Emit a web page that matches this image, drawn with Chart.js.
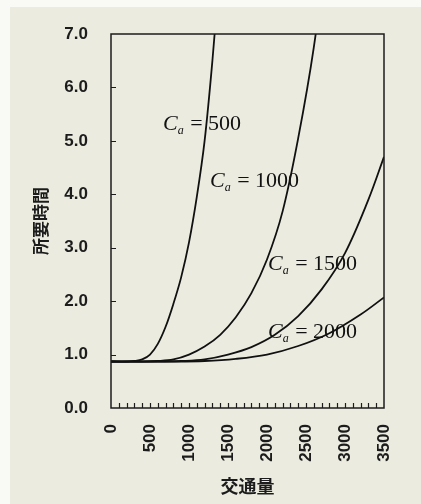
<!DOCTYPE html>
<html>
<head>
<meta charset="utf-8">
<script src="https://cdn.jsdelivr.net/npm/chart.js@4.4.1/dist/chart.umd.min.js"></script>
<style>
body{margin:0;background:#ecebe0;}
canvas{display:block;}
</style>
</head>
<body>
<canvas id="travelTime" width="421" height="504"></canvas>
<script>
// 所要時間 vs 交通量, one curve per capacity Ca
var capacities = [500, 1000, 1500, 2000];

var volume500  = [0, 200, 300, 400, 500, 600, 700, 800, 900, 1000, 1100, 1200, 1300, 1400];
var time500    = [0.87, 0.87, 0.88, 0.91, 1.0, 1.2, 1.52, 1.95, 2.45, 3.1, 3.95, 5.0, 6.5, 8.3];

var volume1000 = [0, 400, 600, 800, 1000, 1200, 1400, 1600, 1800, 2000, 2200, 2400, 2600, 2800];
var time1000   = [0.87, 0.87, 0.88, 0.91, 1.0, 1.15, 1.37, 1.7, 2.15, 2.78, 3.68, 5.05, 6.75, 9.0];

var volume1500 = [0, 600, 900, 1200, 1500, 1800, 2100, 2400, 2700, 3000, 3300, 3500];
var time1500   = [0.87, 0.87, 0.88, 0.91, 1.0, 1.14, 1.37, 1.72, 2.22, 2.9, 3.9, 4.7];

var volume2000 = [0, 800, 1200, 1600, 2000, 2400, 2800, 3200, 3500];
var time2000   = [0.87, 0.87, 0.88, 0.92, 1.0, 1.16, 1.4, 1.75, 2.07];

var xTickValues = [0, 500, 1000, 1500, 2000, 2500, 3000, 3500];
var yTickValues = [0, 1, 2, 3, 4, 5, 6, 7];

function toPoints(xs, ys){
    return xs.map(function(v, i){ return {x: v, y: ys[i]}; });
}

var curveData = [
    toPoints(volume500, time500),
    toPoints(volume1000, time1000),
    toPoints(volume1500, time1500),
    toPoints(volume2000, time2000)
];

// where each "Ca = ..." label sits (data units, left/baseline)
var labelAnchor = [[667, 5.20], [1269, 4.14], [2013, 2.58], [2013, 1.31]];

var inkColor = "#1c1c1c";

var paperPlugin = {
    id: "paper",
    beforeDraw: function(chart){
        var ctx = chart.ctx;
        ctx.save();
        ctx.fillStyle = "#ecebe0";
        ctx.fillRect(0, 0, chart.width, chart.height);
        ctx.fillStyle = "#f9f9f6";
        ctx.fillRect(0, 0, 10, chart.height);
        ctx.fillRect(0, 0, chart.width, 7);
        ctx.restore();
    },
    afterDraw: function(chart){
        var ctx = chart.ctx;
        var a = chart.chartArea;
        var xs = chart.scales.x, ys = chart.scales.y;
        ctx.save();
        ctx.strokeStyle = inkColor;
        ctx.lineWidth = 1.5;
        ctx.strokeRect(a.left, a.top, a.right - a.left, a.bottom - a.top);

        // inward minor ticks along the bottom
        ctx.lineWidth = 1.2;
        ctx.beginPath();
        for (var v = 100; v < 3500; v += 100){
            var px = Math.round(xs.getPixelForValue(v)) + 0.5;
            ctx.moveTo(px, a.bottom);
            ctx.lineTo(px, a.bottom - 5);
        }
        // inward ticks on the left axis
        for (var t = 1; t < 7; t++){
            var py = Math.round(ys.getPixelForValue(t)) + 0.5;
            ctx.moveTo(a.left, py);
            ctx.lineTo(a.left + 5, py);
        }
        ctx.stroke();

        // curve labels
        ctx.fillStyle = "#111";
        ctx.textBaseline = "alphabetic";
        capacities.forEach(function(cap, i){
            var lx = xs.getPixelForValue(labelAnchor[i][0]);
            var ly = ys.getPixelForValue(labelAnchor[i][1]);
            ctx.font = 'italic 22px "Liberation Serif"';
            ctx.fillText("C", lx, ly);
            var wc = ctx.measureText("C").width;
            ctx.font = 'italic 12px "Liberation Serif"';
            ctx.fillText("a", lx + wc, ly + 4);
            var wa = ctx.measureText("a").width;
            ctx.font = '22px "Liberation Serif"';
            ctx.fillText(" = " + cap, lx + wc + wa + 1, ly);
        });
        ctx.restore();
    }
};

var tickFont = {family: "'Liberation Sans', Arial, sans-serif", size: 17, weight: "bold"};

var travelChart = new Chart(document.getElementById("travelTime"), {
    type: "line",
    data: {
        datasets: curveData.map(function(pts, i){
            return {
                label: "Ca = " + capacities[i],
                data: pts,
                borderColor: "#111",
                borderWidth: 1.8,
                pointRadius: 0,
                fill: false,
                tension: 0.35
            };
        })
    },
    options: {
        responsive: false,
        animation: false,
        layout: {padding: {top: 34, right: 37, left: 0, bottom: 0}},
        plugins: {legend: {display: false}, tooltip: {enabled: false}},
        scales: {
            x: {
                type: "linear",
                min: 0,
                max: 3500,
                grid: {display: false, drawTicks: false},
                border: {display: false},
                afterBuildTicks: function(scale){
                    scale.ticks = xTickValues.map(function(v){ return {value: v}; });
                },
                afterFit: function(scale){ scale.height = 96; },
                ticks: {
                    minRotation: 90,
                    maxRotation: 90,
                    padding: 16,
                    color: inkColor,
                    font: tickFont,
                    callback: function(v){ return String(v); }
                },
                title: {
                    display: true,
                    text: "交通量",
                    color: inkColor,
                    padding: {top: 0, bottom: 7},
                    font: {family: "'Noto Sans CJK JP'", size: 18, weight: "bold"}
                }
            },
            y: {
                min: 0,
                max: 7,
                grid: {display: false, drawTicks: false},
                border: {display: false},
                afterBuildTicks: function(scale){
                    scale.ticks = yTickValues.map(function(v){ return {value: v}; });
                },
                afterFit: function(scale){ scale.width = 111; },
                ticks: {
                    padding: 23,
                    color: inkColor,
                    font: tickFont,
                    callback: function(v){ return Number(v).toFixed(1); }
                },
                title: {
                    display: true,
                    text: "所要時間",
                    color: inkColor,
                    padding: {top: 30, bottom: 0},
                    font: {family: "'Noto Sans CJK JP'", size: 17, weight: "bold"}
                }
            }
        }
    },
    plugins: [paperPlugin]
});
</script>
</body>
</html>
